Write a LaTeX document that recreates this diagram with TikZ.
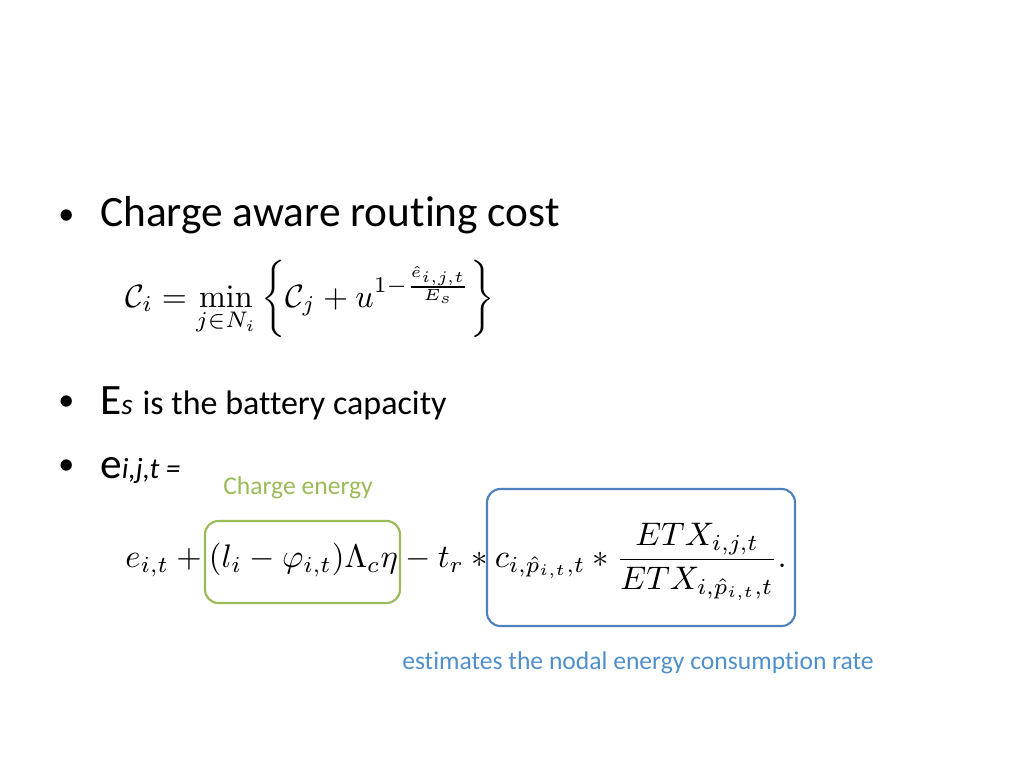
\documentclass[tikz,border=0pt]{standalone}
\usepackage{amsmath,amssymb}
\usepackage{graphicx}
\usepackage[no-math]{fontspec}
\setmainfont{Carlito}[Ligatures=CommonOff]
\usetikzlibrary{positioning}
\definecolor{box green}{rgb}{0.6078, 0.7333, 0.3490}
\definecolor{box blue}{rgb}{0.3098, 0.5059, 0.7412}
\definecolor{text blue}{rgb}{0.3098, 0.5608, 0.8000}
\begin{document}
\begin{tikzpicture}[x=0.75pt,y=-0.75pt,
		bullet/.style={anchor=base west,inner sep=0pt,font=\fontsize{32.5}{38}\selectfont},
		dot/.style={anchor=base west,inner sep=0pt,font=\fontsize{24}{28}\selectfont},
		tag/.style={anchor=center,inner sep=0pt,font=\fontsize{19.2}{22}\selectfont},
		frame/.style={rounded corners=10pt,line width=1.6pt}]
			% page
			\useasboundingbox (0,0) rectangle (1024,768);
			% bullets
			\node[dot] (dot1) at (58,224) {\textbullet};
			\node[bullet] (title) at (100,226) {Charge aware routing cost};
			\node[dot] (dot2) at (58,410) {\textbullet};
			\node[bullet] (cap) at (100,414) {E\textit{\fontsize{22}{24}\selectfont s} {\fontsize{25.5}{28}\selectfont is the battery capacity}};
			\node[dot] (dot3) at (58,474) {\textbullet};
			\node[bullet] (eij) at (100,478) {e\textit{\fontsize{22}{24}\selectfont i,j,t =}};
			% formulas
			\node[inner sep=0pt] (cost) at (310,299)
				{\resizebox{277pt}{!}{$\mathcal{C}_i=\min\limits_{j\in N_i}\left\{\mathcal{C}_j+u^{1-\frac{\hat e_{i,j,t}}{E_s}}\right\}$}};
			\node[inner sep=0pt] (energy) at (456,562)
				{\resizebox{496pt}{!}{$e_{i,t}+(l_i-\varphi_{i,t})\Lambda_c\eta-t_r*c_{i,\hat p_{i,t},t}*\dfrac{ETX_{i,j,t}}{ETX_{i,\hat p_{i,t},t}}.$}};
			% boxes
			\draw[box green,frame] (205,521) rectangle (400,603);
			\draw[box blue,frame] (487,489) rectangle (795,626);
			\node[tag,text=box green] (charge) at (298,488) {Charge energy};
			\node[tag,text=text blue] (rate) at (638,663) {estimates the nodal energy consumption rate};
		\end{tikzpicture}
\end{document}
